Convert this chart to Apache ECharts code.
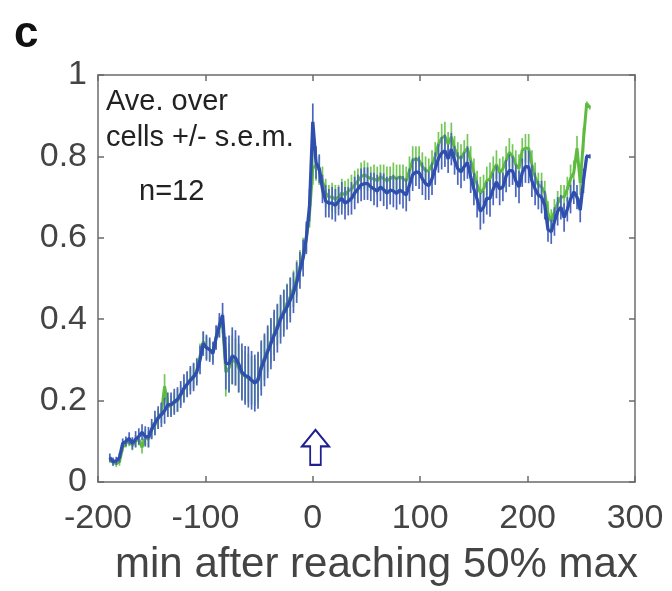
<!DOCTYPE html>
<html>
<head>
<meta charset="utf-8">
<script src="https://cdn.jsdelivr.net/npm/echarts@6/dist/echarts.min.js"></script>
<style>
  html, body { margin: 0; padding: 0; background: #fff; }
  #main-chart { width: 672px; height: 591px; }
</style>
</head>
<body>
<div id="main-chart"></div>
<script>
// sample times (min after reaching 50% max)
var minutes = [-189,-186,-183,-180,-177,-174,-171,-168,-165,-162,-159,-156,-153,-150,
  -147,-144,-141,-138,-135,-132,-129,-126,-123,-120,-117,-114,-111,-108,-105,-102,-99,-96,-93,-90,-87,
  -84,-81,-78,-75,-72,-69,-66,-63,-60,-57,-54,-51,-48,
  -45,-42,-39,-36,-33,-30,-27,-24,-21,-18,-15,-12,-9,-6,-3,0,
  3,6,9,12,15,18,21,24,27,30,33,36,39,42,45,48,51,54,57,60,63,66,69,72,75,78,81,84,87,90,
  93,96,99,102,105,108,111,114,117,120,123,126,129,132,135,138,141,144,147,150,
  153,156,159,162,165,168,171,174,177,180,183,186,189,192,195,198,201,204,207,210,
  213,216,219,222,225,228,231,234,237,240,243,246,249,252,255,258];

// blue trace mean and s.e.m.
var blueMean = [0.06,0.05,0.052,0.06,0.095,0.10,0.107,0.095,0.105,0.112,0.122,0.112,0.11,0.13,
  0.145,0.158,0.165,0.175,0.19,0.19,0.197,0.203,0.215,0.23,0.24,0.25,0.258,0.27,0.30,0.34,0.33,0.325,0.316,0.355,0.385,
  0.41,0.292,0.29,0.31,0.305,0.29,0.27,0.262,0.258,0.25,0.243,0.25,0.28,
  0.30,0.32,0.34,0.36,0.378,0.40,0.415,0.43,0.447,0.465,0.49,0.52,0.55,0.60,0.68,0.885,
  0.785,0.77,0.72,0.69,0.685,0.685,0.68,0.69,0.697,0.685,0.69,0.697,0.71,0.72,0.73,0.733,0.733,0.725,0.72,0.715,0.725,0.718,0.71,0.717,0.715,0.709,0.717,0.712,0.705,0.73,
  0.755,0.762,0.76,0.745,0.733,0.728,0.745,0.77,0.795,0.808,0.814,0.794,0.818,0.79,0.77,0.762,0.775,0.785,0.75,0.72,
  0.695,0.665,0.675,0.697,0.697,0.72,0.737,0.72,0.725,0.752,0.765,0.765,0.74,0.725,0.76,0.775,0.774,0.74,0.72,0.705,
  0.70,0.68,0.62,0.615,0.64,0.665,0.675,0.65,0.67,0.695,0.713,0.70,0.668,0.74,0.80,0.80];
var blueSem = [0.01,0.01,0.01,0.012,0.012,0.012,0.015,0.015,0.02,0.02,0.02,0.025,0.025,0.025,
  0.03,0.028,0.03,0.032,0.03,0.03,0.032,0.03,0.033,0.035,0.032,0.035,0.035,0.033,0.035,0.03,0.032,0.03,0.028,0.03,0.03,
  0.03,0.065,0.07,0.07,0.068,0.07,0.07,0.072,0.075,0.072,0.07,0.07,0.068,
  0.065,0.065,0.063,0.063,0.06,0.06,0.058,0.055,0.055,0.05,0.05,0.045,0.045,0.04,0.04,0.045,
  0.04,0.035,0.035,0.04,0.035,0.04,0.04,0.035,0.04,0.04,0.035,0.04,0.04,0.035,0.04,0.04,0.04,0.035,0.04,0.04,0.035,0.04,0.04,0.035,0.04,0.04,0.035,0.04,0.04,0.04,
  0.04,0.035,0.04,0.04,0.04,0.035,0.04,0.04,0.035,0.04,0.04,0.035,0.04,0.035,0.04,0.04,0.035,0.04,0.04,0.04,
  0.045,0.045,0.04,0.04,0.045,0.04,0.04,0.04,0.035,0.04,0.04,0.035,0.04,0.04,0.035,0.04,0.04,0.04,0.04,0.035,
  0.04,0.035,0.03,0.03,0.035,0.035,0.03,0.035,0.03,0.035,0.03,0.03,0.03,0.03,0.005,0.005];

// green trace mean and s.e.m.
var greenMean = [0.055,0.048,0.045,0.05,0.085,0.095,0.10,0.09,0.10,0.105,0.085,0.11,0.105,0.128,
  0.14,0.155,0.17,0.235,0.185,0.188,0.195,0.20,0.213,0.228,0.24,0.252,0.26,0.275,0.31,0.345,0.33,0.325,0.32,0.355,0.38,
  0.39,0.27,0.28,0.30,0.295,0.28,0.265,0.26,0.255,0.25,0.245,0.255,0.285,
  0.305,0.325,0.345,0.365,0.385,0.405,0.42,0.44,0.455,0.475,0.50,0.53,0.56,0.60,0.66,0.77,
  0.78,0.765,0.74,0.71,0.70,0.70,0.695,0.70,0.71,0.705,0.715,0.72,0.73,0.74,0.75,0.755,0.75,0.745,0.745,0.74,0.75,0.745,0.74,0.745,0.75,0.745,0.75,0.745,0.74,0.765,
  0.79,0.795,0.79,0.775,0.765,0.765,0.78,0.80,0.83,0.845,0.85,0.83,0.848,0.82,0.80,0.795,0.81,0.82,0.79,0.76,
  0.73,0.71,0.72,0.74,0.745,0.765,0.78,0.76,0.77,0.79,0.81,0.80,0.78,0.77,0.815,0.82,0.82,0.78,0.75,0.73,
  0.725,0.71,0.66,0.64,0.665,0.685,0.70,0.70,0.72,0.745,0.76,0.82,0.735,0.84,0.93,0.92];
var greenSem = [0.008,0.008,0.008,0.01,0.01,0.01,0.012,0.012,0.015,0.015,0.015,0.02,0.02,0.02,
  0.025,0.025,0.025,0.03,0.025,0.025,0.025,0.028,0.025,0.028,0.03,0.028,0.03,0.03,0.03,0.025,0.028,0.025,0.025,0.028,0.025,
  0.025,0.06,0.06,0.06,0.058,0.06,0.06,0.062,0.06,0.06,0.058,0.06,0.058,
  0.055,0.055,0.053,0.053,0.05,0.05,0.05,0.048,0.048,0.045,0.045,0.04,0.04,0.035,0.035,0.04,
  0.04,0.035,0.035,0.035,0.03,0.035,0.035,0.03,0.035,0.035,0.03,0.035,0.035,0.03,0.035,0.035,0.035,0.03,0.035,0.035,0.03,0.035,0.035,0.03,0.035,0.035,0.03,0.035,0.035,0.035,
  0.035,0.03,0.035,0.035,0.035,0.03,0.035,0.035,0.03,0.035,0.035,0.03,0.035,0.03,0.035,0.035,0.03,0.035,0.035,0.035,
  0.035,0.04,0.035,0.035,0.04,0.035,0.035,0.035,0.03,0.035,0.035,0.03,0.035,0.035,0.03,0.035,0.035,0.035,0.035,0.03,
  0.035,0.03,0.03,0.03,0.03,0.03,0.03,0.03,0.03,0.035,0.03,0.03,0.03,0.03,0.005,0.005];

var yTicks = [0, 0.2, 0.4, 0.6, 0.8, 1];
var xTicks = [-200, -100, 0, 100, 200, 300];

var BLUE = '#2f4fae', BLUE_BAR = '#4a66bc';
var GREEN = '#5dbb3f', GREEN_BAR = '#74c858';
var AXIS = '#6b6b6b', TEXT = '#444';
var FONT = '"Liberation Sans", Arial, sans-serif';

function pairs(vals) {
  return minutes.map(function (m, i) { return [m, vals[i]]; });
}
function bars(vals, sem) {
  return minutes.map(function (m, i) { return [m, vals[i] - sem[i], vals[i] + sem[i]]; });
}
function barRenderer(color) {
  return function (params, api) {
    var p1 = api.coord([api.value(0), api.value(1)]);
    var p2 = api.coord([api.value(0), api.value(2)]);
    return {
      type: 'line',
      shape: { x1: p1[0], y1: p1[1], x2: p2[0], y2: p2[1] },
      style: { stroke: color, lineWidth: 1.7 }
    };
  };
}

var xBase = {
  type: 'value', min: xTicks[0], max: xTicks[xTicks.length - 1], interval: 100,
  splitLine: { show: false },
  axisLine: { show: true, onZero: false, lineStyle: { color: AXIS, width: 1.5 } },
  axisTick: { show: true, inside: true, length: 6, lineStyle: { color: AXIS, width: 1.5 } }
};
var yBase = {
  type: 'value', min: yTicks[0], max: yTicks[yTicks.length - 1], interval: 0.2,
  splitLine: { show: false },
  axisLine: { show: true, onZero: false, lineStyle: { color: AXIS, width: 1.5 } },
  axisTick: { show: true, inside: true, length: 6, lineStyle: { color: AXIS, width: 1.5 } }
};

var option = {
  animation: false,
  backgroundColor: '#fff',
  grid: { left: 98, right: 37, top: 75, bottom: 104 },
  xAxis: [
    Object.assign({}, xBase, {
      position: 'bottom',
      axisLabel: { fontSize: 34, color: TEXT, fontFamily: FONT, margin: 20 },
      name: 'min after reaching 50% max',
      nameLocation: 'middle',
      nameGap: 62,
      nameTextStyle: { fontSize: 42, color: TEXT, fontFamily: FONT, padding: [0, 0, 0, 20] }
    }),
    Object.assign({}, xBase, { position: 'top', axisLabel: { show: false } })
  ],
  yAxis: [
    Object.assign({}, yBase, {
      position: 'left',
      axisLabel: { fontSize: 34, color: TEXT, fontFamily: FONT, margin: 11, padding: [6, 0, 0, 0] }
    }),
    Object.assign({}, yBase, { position: 'right', axisLabel: { show: false } })
  ],
  graphic: [
    { type: 'text', left: 14, top: 13, style: { text: 'c', fontSize: 44, fontWeight: 'bold', fill: '#111', fontFamily: FONT } },
    { type: 'text', left: 106, top: 87, style: { text: 'Ave. over', fontSize: 29, fill: '#222', fontFamily: FONT } },
    { type: 'text', left: 106, top: 123, style: { text: 'cells +/- s.e.m.', fontSize: 29, fill: '#222', fontFamily: FONT } },
    { type: 'text', left: 139, top: 177, style: { text: 'n=12', fontSize: 29, fill: '#222', fontFamily: FONT } }
  ],
  series: [
    {
      name: 'green s.e.m.', type: 'custom', renderItem: barRenderer(GREEN_BAR),
      data: bars(greenMean, greenSem), encode: { x: 0, y: [1, 2] }, z: 1
    },
    {
      name: 'green', type: 'line', data: pairs(greenMean), showSymbol: false,
      lineStyle: { color: GREEN, width: 3 }, z: 2
    },
    {
      name: 'blue s.e.m.', type: 'custom', renderItem: barRenderer(BLUE_BAR),
      data: bars(blueMean, blueSem), encode: { x: 0, y: [1, 2] }, z: 3
    },
    {
      name: 'blue', type: 'line', data: pairs(blueMean), showSymbol: false,
      lineStyle: { color: BLUE, width: 3.3 }, z: 4,
      markPoint: {
        silent: true,
        symbol: 'path://M14,0 L28,17 L19.5,17 L19.5,36 L8.5,36 L8.5,17 L0,17 Z',
        symbolSize: [27, 35],
        itemStyle: { color: 'rgba(255,255,255,0)', borderColor: '#1f1f8f', borderWidth: 2 },
        label: { show: false },
        data: [{ coord: [2.5, 0.085] }]
      }
    }
  ]
};

var myChart = echarts.init(document.getElementById('main-chart'));
myChart.setOption(option);
</script>
</body>
</html>
